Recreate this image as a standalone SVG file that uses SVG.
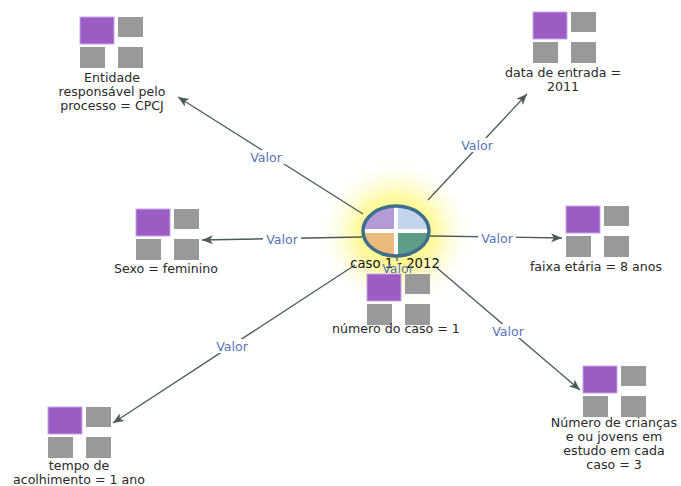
<svg xmlns="http://www.w3.org/2000/svg" width="681" height="486" viewBox="0 0 681 486">
<style>
.lbl{font-family:"DejaVu Sans","Liberation Sans",Arial,sans-serif;font-size:12.6px;fill:#2a2a2a;text-anchor:middle}
.val{font-family:"DejaVu Sans","Liberation Sans",Arial,sans-serif;font-size:12.6px;fill:#5674b9;text-anchor:middle}
.edge{stroke:#4d5a5a;stroke-width:1.3;fill:none}
.vbg{fill:#ffffff}
</style>
<defs>
<radialGradient id="glow" cx="0.5" cy="0.5" r="0.5">
<stop offset="0" stop-color="#fff35a" stop-opacity="1"/>
<stop offset="0.5" stop-color="#fff88e" stop-opacity="0.8"/>
<stop offset="1" stop-color="#ffffff" stop-opacity="0"/>
</radialGradient>
<marker id="arr" markerUnits="userSpaceOnUse" markerWidth="12" markerHeight="10" refX="11" refY="4.5" orient="auto">
<path d="M0,0 L11,4.5 L0,9 L3,4.5 Z" fill="#4d5a5a"/>
</marker>
<g id="icon">
<rect x="0" y="0" width="34" height="27" fill="#9b5cc4" stroke="#c7a6e3" stroke-width="1"/>
<rect x="38" y="0" width="25" height="20" fill="#999999"/>
<rect x="0" y="30" width="25" height="21" fill="#999999"/>
<rect x="38" y="30" width="25" height="21" fill="#999999"/>
</g>
<clipPath id="ec"><ellipse cx="396" cy="231" rx="33" ry="25"/></clipPath>
</defs>
<rect width="681" height="486" fill="#ffffff"/>
<ellipse cx="396" cy="234" rx="80" ry="76" fill="url(#glow)"/>

<g id="connectors">
<line class="edge" x1="363" y1="214" x2="178" y2="97" marker-end="url(#arr)"/>
<line class="edge" x1="428" y1="200" x2="527" y2="94" marker-end="url(#arr)"/>
<line class="edge" x1="362" y1="237" x2="202" y2="240" marker-end="url(#arr)"/>
<line class="edge" x1="430" y1="236" x2="562" y2="238" marker-end="url(#arr)"/>
<line class="edge" x1="355" y1="265" x2="113" y2="423" marker-end="url(#arr)"/>
<line class="edge" x1="437" y1="268" x2="580" y2="390" marker-end="url(#arr)"/>
<line class="edge" x1="397" y1="257" x2="397" y2="261"/>
<rect class="vbg" x="247" y="150" width="38" height="14"/>
<text class="val" x="266" y="162">Valor</text>
<rect class="vbg" x="458" y="138" width="38" height="14"/>
<text class="val" x="477" y="150">Valor</text>
<rect class="vbg" x="263" y="232" width="38" height="14"/>
<text class="val" x="282" y="244">Valor</text>
<rect class="vbg" x="478" y="231" width="38" height="14"/>
<text class="val" x="497" y="243">Valor</text>
<rect class="vbg" x="213" y="339" width="38" height="14"/>
<text class="val" x="232" y="351">Valor</text>
<rect class="vbg" x="489" y="324" width="38" height="14"/>
<text class="val" x="508" y="336">Valor</text>
</g>

<g id="center">
<g clip-path="url(#ec)">
<rect x="360" y="200" width="36" height="31" fill="#b39cd6"/>
<rect x="396" y="200" width="36" height="31" fill="#c3d5ec"/>
<rect x="360" y="231" width="36" height="30" fill="#ecbb7c"/>
<rect x="396" y="231" width="36" height="30" fill="#5f9d89"/>
<line x1="396" y1="200" x2="396" y2="260" stroke="#ffffff" stroke-width="4"/>
<line x1="360" y1="231" x2="432" y2="231" stroke="#ffffff" stroke-width="4"/>
</g>
<ellipse cx="396" cy="231" rx="33" ry="25" fill="none" stroke="#3d6e8c" stroke-width="3.5"/>
<text class="lbl" x="395" y="268" style="font-size:13.2px;fill:#111">caso 1 - 2012</text>
</g>
<text class="val" x="398" y="273">Valor</text>

<g id="n-entidade">
<use href="#icon" x="80" y="17"/>
<text class="lbl" x="112" y="82">Entidade</text>
<text class="lbl" x="112" y="96">responsável pelo</text>
<text class="lbl" x="112" y="110">processo = CPCJ</text>
</g>
<g id="n-data">
<use href="#icon" x="533" y="12"/>
<text class="lbl" x="563" y="77">data de entrada =</text>
<text class="lbl" x="563" y="91">2011</text>
</g>
<g id="n-sexo">
<use href="#icon" x="136" y="209"/>
<text class="lbl" x="166" y="273">Sexo = feminino</text>
</g>
<g id="n-faixa">
<use href="#icon" x="566" y="206"/>
<text class="lbl" x="596" y="271">faixa etária = 8 anos</text>
</g>
<g id="n-numero">
<use href="#icon" x="367" y="274"/>
<text class="lbl" x="396" y="333">número do caso = 1</text>
</g>
<g id="n-tempo">
<use href="#icon" x="48" y="407"/>
<text class="lbl" x="79" y="470">tempo de</text>
<text class="lbl" x="79" y="484">acolhimento = 1 ano</text>
</g>
<g id="n-criancas">
<use href="#icon" x="583" y="366"/>
<text class="lbl" x="614" y="427">Número de crianças</text>
<text class="lbl" x="614" y="441">e ou jovens em</text>
<text class="lbl" x="614" y="455">estudo em cada</text>
<text class="lbl" x="614" y="469">caso = 3</text>
</g>
</svg>
